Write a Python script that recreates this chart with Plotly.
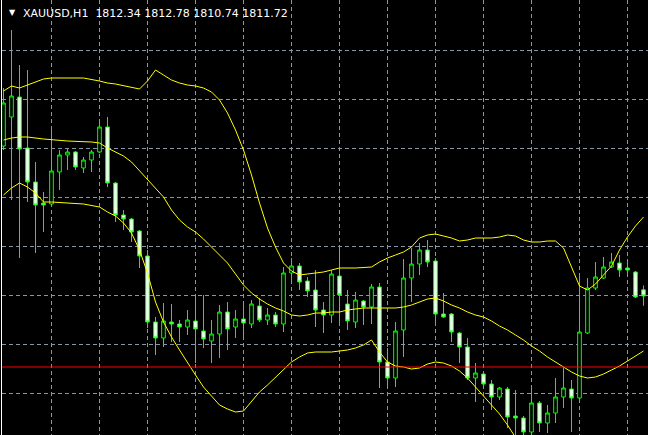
import plotly.graph_objects as go

# ---------------- data (XAUUSD H1) ----------------
bar_index = list(range(81))

open_ = [1826.72, 1829.62, 1831.62, 1826.52, 1823.12, 1821.02, 1820.92, 1824.12, 1825.82, 1826.12,
         1824.52, 1825.32, 1826.12, 1828.62, 1823.02, 1819.82, 1819.42, 1818.22, 1815.72, 1809.12,
         1807.52, 1809.12, 1808.92, 1808.62, 1809.22, 1808.22, 1807.22, 1807.92, 1810.12, 1808.62,
         1809.42, 1808.92, 1810.72, 1809.32, 1809.82, 1808.92, 1814.02, 1814.72, 1813.22, 1812.32,
         1810.32, 1809.82, 1813.72, 1810.92, 1809.12, 1811.22, 1810.62, 1812.62, 1805.12, 1803.52,
         1808.32, 1813.52, 1814.92, 1816.32, 1815.22, 1809.92, 1809.92, 1808.02, 1806.62, 1803.52,
         1803.92, 1802.92, 1801.62, 1802.42, 1799.72, 1799.52, 1798.12, 1801.02, 1799.02, 1800.02,
         1801.62, 1802.42, 1801.52, 1808.02, 1812.52, 1813.52, 1814.62, 1815.02, 1814.52, 1814.12,
         1812.34]
high = [1832.52, 1838.32, 1834.82, 1834.32, 1825.12, 1822.12, 1828.62, 1826.32, 1826.52, 1826.22,
        1825.62, 1826.32, 1829.02, 1829.62, 1823.12, 1820.32, 1819.52, 1818.32, 1816.32, 1809.62,
        1811.02, 1810.92, 1809.32, 1810.32, 1811.82, 1811.82, 1809.32, 1810.82, 1811.12, 1810.32,
        1811.12, 1811.32, 1811.52, 1810.52, 1810.12, 1814.62, 1815.52, 1815.02, 1813.62, 1814.32,
        1811.12, 1814.32, 1816.62, 1812.32, 1812.12, 1811.32, 1812.92, 1813.02, 1806.52, 1809.12,
        1815.42, 1816.52, 1817.02, 1817.32, 1815.52, 1812.02, 1810.02, 1808.12, 1807.52, 1805.02,
        1804.02, 1803.32, 1802.62, 1802.62, 1802.32, 1799.72, 1802.82, 1801.22, 1800.82, 1803.52,
        1804.62, 1803.32, 1813.62, 1813.52, 1815.12, 1815.62, 1816.02, 1815.82, 1815.32, 1814.22,
        1812.78]
low = [1826.32, 1821.32, 1815.52, 1821.12, 1816.02, 1818.12, 1820.82, 1822.32, 1824.32, 1824.32,
       1824.02, 1824.12, 1826.02, 1822.62, 1819.12, 1818.32, 1817.12, 1814.52, 1808.52, 1805.82,
       1806.62, 1807.12, 1807.12, 1807.82, 1805.02, 1806.52, 1805.02, 1805.52, 1806.32, 1807.52,
       1807.52, 1808.52, 1809.12, 1808.82, 1808.62, 1808.12, 1813.32, 1812.32, 1811.62, 1808.62,
       1808.02, 1809.02, 1809.12, 1808.32, 1808.52, 1808.82, 1808.92, 1802.52, 1802.52, 1802.62,
       1805.62, 1811.12, 1813.82, 1814.62, 1809.12, 1809.52, 1807.12, 1805.02, 1803.32, 1801.12,
       1802.52, 1800.32, 1801.32, 1798.52, 1797.32, 1797.32, 1797.32, 1798.12, 1798.02, 1799.02,
       1800.52, 1798.12, 1801.32, 1807.92, 1812.32, 1813.42, 1814.52, 1813.62, 1813.82, 1811.52,
       1810.74]
close = [1831.02, 1831.72, 1826.42, 1823.12, 1820.82, 1820.82, 1824.22, 1825.82, 1826.12, 1824.62,
         1825.32, 1826.12, 1828.62, 1823.02, 1819.82, 1819.42, 1818.12, 1815.72, 1809.12, 1807.52,
         1809.22, 1808.92, 1808.62, 1809.32, 1808.42, 1807.42, 1807.92, 1810.12, 1808.42, 1809.42,
         1809.02, 1810.92, 1809.32, 1809.82, 1808.92, 1814.02, 1814.72, 1813.12, 1812.22, 1810.32,
         1809.82, 1813.92, 1811.82, 1809.22, 1811.32, 1810.62, 1812.62, 1805.12, 1803.52, 1808.22,
         1813.52, 1814.92, 1816.32, 1815.12, 1809.92, 1809.62, 1808.12, 1806.62, 1803.52, 1804.02,
         1802.92, 1801.62, 1802.52, 1799.62, 1799.52, 1798.12, 1801.02, 1799.02, 1800.02, 1801.62,
         1802.52, 1801.52, 1808.12, 1812.52, 1813.62, 1814.62, 1815.12, 1814.32, 1814.32, 1811.62,
         1811.72]

# Bollinger bands
upper_idx = [0, 1, 2, 3, 4, 5, 6, 8, 10, 12, 13, 14, 16, 17, 18, 19, 20, 21, 22, 23, 24, 25, 26, 27,
             28, 29, 30, 31, 32, 33, 34, 35, 36, 37, 38, 39, 40, 41, 42, 44, 46, 47, 48, 49, 50, 51,
             52, 53, 54, 55, 56, 57, 58, 59, 61, 62, 63, 64, 65, 66, 67, 68, 69, 70, 71, 72, 73, 74,
             75, 76, 77, 78, 79, 80]
upper_band = [1832.22, 1832.72, 1832.52, 1832.82, 1833.12, 1833.42, 1833.52, 1833.52, 1833.52, 1833.22,
              1833.02, 1832.92, 1832.62, 1832.42, 1833.22, 1834.32, 1833.82, 1833.32, 1833.02, 1832.82,
              1832.72, 1832.52, 1832.12, 1831.32, 1830.02, 1828.32, 1826.32, 1823.82, 1821.02, 1818.52,
              1816.62, 1815.02, 1814.22, 1813.82, 1813.92, 1814.02, 1814.12, 1814.32, 1814.52, 1814.52,
              1814.62, 1815.12, 1815.52, 1815.82, 1816.12, 1816.62, 1817.52, 1817.82, 1817.92, 1817.72,
              1817.52, 1817.22, 1817.32, 1817.52, 1817.52, 1817.62, 1817.82, 1817.72, 1817.32, 1817.12,
              1817.12, 1817.22, 1817.22, 1816.52, 1814.52, 1812.72, 1812.32, 1812.92, 1813.82, 1814.72,
              1816.32, 1817.62, 1818.72, 1819.62]

middle_idx = [0, 1, 2, 3, 5, 8, 11, 12, 13, 14, 15, 16, 17, 18, 19, 20, 21, 22, 23, 24, 25, 26, 27, 28,
              29, 30, 31, 32, 33, 34, 35, 36, 37, 38, 39, 40, 41, 42, 43, 44, 45, 49, 50, 51, 52, 53,
              54, 55, 56, 57, 58, 59, 60, 61, 62, 63, 64, 65, 66, 67, 68, 69, 70, 71, 72, 73, 74, 75,
              76, 77, 78, 79, 80]
middle_band = [1827.32, 1827.52, 1827.62, 1827.62, 1827.42, 1827.22, 1827.12, 1827.02, 1826.52, 1826.12,
               1825.72, 1825.12, 1824.22, 1823.32, 1822.52, 1821.62, 1820.32, 1819.32, 1818.62, 1818.12,
               1817.42, 1816.62, 1815.92, 1815.02, 1813.92, 1812.82, 1812.02, 1811.42, 1810.92, 1810.52,
               1810.22, 1809.82, 1809.72, 1809.82, 1810.02, 1810.02, 1810.12, 1810.12, 1810.32, 1810.42,
               1810.52, 1810.52, 1810.62, 1810.82, 1811.12, 1811.42, 1811.52, 1811.22, 1810.82, 1810.52,
               1810.12, 1809.82, 1809.62, 1809.22, 1808.72, 1808.32, 1807.82, 1807.32, 1806.72, 1806.22,
               1805.62, 1805.12, 1804.62, 1804.12, 1803.72, 1803.52, 1803.62, 1803.92, 1804.32, 1804.72,
               1805.22, 1805.72, 1806.22]

lower_idx = [0, 1, 2, 3, 4, 5, 6, 8, 10, 12, 13, 14, 15, 16, 17, 18, 19, 20, 21, 22, 23, 24, 25, 26,
             27, 28, 29, 30, 31, 32, 33, 34, 35, 36, 37, 38, 39, 40, 41, 42, 43, 44, 45, 46, 47, 48,
             49, 50, 51, 52, 53, 54, 55, 56, 57, 58, 59, 60, 61, 62, 63, 64, 65]
lower_band = [1821.82, 1822.52, 1823.02, 1822.62, 1822.02, 1821.12, 1821.12, 1821.02, 1820.92, 1820.62,
              1820.12, 1819.72, 1819.02, 1818.02, 1816.32, 1814.02, 1811.12, 1809.12, 1807.62, 1806.32,
              1805.02, 1803.82, 1802.62, 1801.72, 1800.82, 1800.42, 1800.12, 1800.22, 1801.12, 1802.12,
              1802.82, 1803.62, 1804.42, 1805.12, 1805.62, 1806.02, 1806.12, 1806.12, 1806.12, 1806.22,
              1806.32, 1806.52, 1806.82, 1807.32, 1806.12, 1805.12, 1804.72, 1804.62, 1804.42, 1804.52,
              1804.92, 1805.12, 1805.02, 1804.72, 1804.22, 1803.52, 1802.62, 1801.72, 1800.82, 1799.92,
              1798.82, 1797.62, 1796.32]

hline_level = 1804.62
symbol_label = "XAUUSD,H1"
ohlc_label = "1812.34 1812.78 1810.74 1811.72"

# ---------------- figure ----------------
LIME = "#00FF00"
fig = go.Figure()

fig.add_trace(go.Candlestick(
    x=bar_index, open=open_, high=high, low=low, close=close,
    increasing=dict(line=dict(color=LIME, width=1), fillcolor="#000000"),
    decreasing=dict(line=dict(color=LIME, width=1), fillcolor="#FFFFFF"),
    whiskerwidth=0, hoverinfo="skip", showlegend=False,
))

for idx, vals in ((upper_idx, upper_band), (middle_idx, middle_band), (lower_idx, lower_band)):
    fig.add_trace(go.Scatter(x=idx, y=vals, mode="lines",
                             line=dict(color="#FFFF00", width=1),
                             hoverinfo="skip", showlegend=False))

fig.add_shape(type="line", xref="paper", x0=0, x1=1, yref="y",
              y0=hline_level, y1=hline_level, line=dict(color="#FF0000", width=1), layer="above")

GRID = "#8a96a3"
fig.update_layout(
    width=648, height=435,
    margin=dict(l=2, r=0, t=0, b=0),
    paper_bgcolor="#000000", plot_bgcolor="#000000",
    boxgap=0.35,
    xaxis=dict(range=[-0.1875, 80.5625], rangeslider=dict(visible=False),
               showticklabels=False, ticks="", zeroline=False,
               tickvals=list(range(6, 81, 6)), showgrid=True,
               gridcolor=GRID, gridwidth=1, griddash="4px,3px"),
    yaxis=dict(range=[1797.82, 1841.32], showticklabels=False, ticks="",
               zeroline=False, tick0=1811.82, dtick=4.9, showgrid=True,
               gridcolor=GRID, gridwidth=1, griddash="4px,3px",
               showline=True, linecolor="#FFFFFF", linewidth=1),
    font=dict(family="DejaVu Sans", color="#FFFFFF", size=11),
)

fig.add_annotation(xref="paper", yref="paper", x=0.008, y=0.971, xanchor="left", yanchor="middle",
                   text="▼", showarrow=False, font=dict(size=8, color="#FFFFFF"))
fig.add_annotation(xref="paper", yref="paper", x=0.029, y=0.970, xanchor="left", yanchor="middle",
                   text=symbol_label + "\u00a0\u00a0" + ohlc_label, showarrow=False,
                   font=dict(family="DejaVu Sans", size=11, color="#FFFFFF"))

fig.write_html(
    "out.html",
    config={"displayModeBar": False, "staticPlot": True},
    post_script="document.body.style.margin='0';document.body.style.padding='0';"
                "document.body.style.overflow='hidden';document.body.style.background='#000';",
)
